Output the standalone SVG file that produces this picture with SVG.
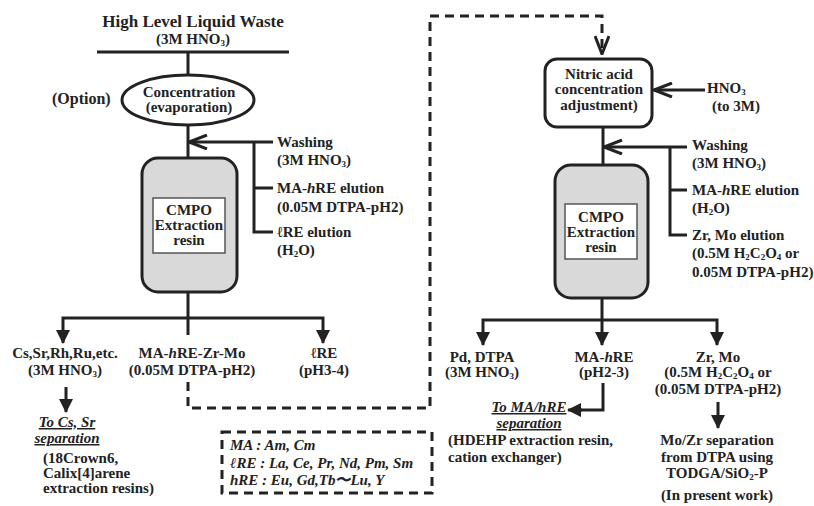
<svg xmlns="http://www.w3.org/2000/svg" width="814" height="506" viewBox="0 0 814 506">
<style>
text{font-family:"Liberation Serif","Times New Roman",serif;font-weight:bold;font-size:15px;fill:#222}
.t{font-size:17px}
.c{text-anchor:middle}
.i{font-style:italic}
.u{text-decoration:underline}
.s{font-size:9px}
.ln{fill:none;stroke:#222;stroke-width:3}
.dash{fill:none;stroke:#222;stroke-width:3;stroke-dasharray:9 6}
.col{fill:#d9d9d9;stroke:#222;stroke-width:3}
.inner{fill:#fff;stroke:#555;stroke-width:1.5}
.box{fill:#fff;stroke:#222;stroke-width:3}
</style>
<defs>
<marker id="chev" viewBox="0 0 20 16" refX="19" refY="8" markerWidth="20" markerHeight="16" markerUnits="userSpaceOnUse" orient="auto">
<path d="M1 1 L19 8 L1 15" fill="none" stroke="#222" stroke-width="3"/>
</marker>
<marker id="tri" viewBox="0 0 14 14" refX="13" refY="7" markerWidth="14" markerHeight="14" markerUnits="userSpaceOnUse" orient="auto">
<path d="M0 0 L14 7 L0 14 Z" fill="#222"/>
</marker>
</defs>

<g id="feed">
<text class="t c" x="193" y="27">High Level Liquid Waste</text>
<text class="c" x="193" y="44">(3M HNO<tspan class="s" dy="2">3</tspan><tspan dy="-2">)</tspan></text>
<line class="ln" x1="97" y1="52" x2="289" y2="52"/>
</g>

<g id="concentration">
<ellipse class="box" cx="188" cy="100" rx="66" ry="25"/>
<text class="c" x="189" y="97">Concentration</text>
<text class="c" x="189" y="112">(evaporation)</text>
<text x="52" y="104" style="font-size:16px">(Option)</text>
</g>

<g id="left-eluents">
<text x="277" y="147">Washing</text>
<text x="277" y="165">(3M HNO<tspan class="s" dy="2">3</tspan><tspan dy="-2">)</tspan></text>
<text x="277" y="193">MA-<tspan class="i">h</tspan>RE elution</text>
<text x="277" y="212">(0.05M DTPA-pH2)</text>
<text x="277" y="237">ℓRE elution</text>
<text x="277" y="255">(H<tspan class="s" dy="2">2</tspan><tspan dy="-2">O)</tspan></text>
</g>

<g id="left-column">
<rect class="col" x="142" y="158" width="95" height="134" rx="16"/>
<rect class="inner" x="153" y="198" width="72" height="55"/>
<text class="c" x="189" y="215">CMPO</text>
<text class="c" x="189" y="230">Extraction</text>
<text class="c" x="189" y="245">resin</text>
</g>

<g id="left-products">
<text class="c" x="65" y="358">Cs,Sr,Rh,Ru,etc.</text>
<text class="c" x="65" y="375">(3M HNO<tspan class="s" dy="2">3</tspan><tspan dy="-2">)</tspan></text>
<text class="c" x="192" y="358">MA-<tspan class="i">h</tspan>RE-Zr-Mo</text>
<text class="c" x="192" y="375">(0.05M DTPA-pH2)</text>
<text class="c" x="324" y="358">ℓRE</text>
<text class="c" x="324" y="375">(pH3-4)</text>
</g>

<g id="cs-sr">
<text class="c i u" x="67" y="427">To Cs, Sr</text>
<text class="c i u" x="67" y="443">separation</text>
<text x="43" y="463">(18Crown6,</text>
<text x="43" y="478">Calix[4]arene</text>
<text x="43" y="493">extraction resins)</text>
</g>

<g id="legend">
<rect class="dash" x="222" y="432" width="210" height="61"/>
<text class="i" x="230" y="450">MA :  Am, Cm</text>
<text class="i" x="230" y="468">ℓRE : La, Ce, Pr, Nd, Pm, Sm</text>
<text class="i" x="230" y="485">hRE :  Eu, Gd,Tb〜Lu, Y</text>
</g>

<g id="nitric">
<rect class="box" x="545" y="59" width="107" height="68" rx="12"/>
<text class="c" x="599" y="79">Nitric acid</text>
<text class="c" x="599" y="94">concentration</text>
<text class="c" x="599" y="110">adjustment)</text>
<text x="707" y="93">HNO<tspan class="s" dy="2">3</tspan></text>
<text x="712" y="111">(to 3M)</text>
</g>

<g id="right-eluents">
<text x="692" y="150">Washing</text>
<text x="692" y="168">(3M HNO<tspan class="s" dy="2">3</tspan><tspan dy="-2">)</tspan></text>
<text x="692" y="195">MA-<tspan class="i">h</tspan>RE elution</text>
<text x="692" y="213">(H<tspan class="s" dy="2">2</tspan><tspan dy="-2">O)</tspan></text>
<text x="692" y="240">Zr, Mo elution</text>
<text x="692" y="258">(0.5M H<tspan class="s" dy="2">2</tspan><tspan dy="-2">C</tspan><tspan class="s" dy="2">2</tspan><tspan dy="-2">O</tspan><tspan class="s" dy="2">4</tspan><tspan dy="-2"> or</tspan></text>
<text x="692" y="277">0.05M DTPA-pH2)</text>
</g>

<g id="right-column">
<rect class="col" x="555" y="165" width="93" height="133" rx="16"/>
<rect class="inner" x="565" y="204" width="72" height="55"/>
<text class="c" x="601" y="222">CMPO</text>
<text class="c" x="601" y="237">Extraction</text>
<text class="c" x="601" y="252">resin</text>
</g>

<g id="right-products">
<text class="c" x="482" y="362">Pd, DTPA</text>
<text class="c" x="482" y="377">(3M HNO<tspan class="s" dy="2">3</tspan><tspan dy="-2">)</tspan></text>
<text class="c" x="604" y="362">MA-<tspan class="i">h</tspan>RE</text>
<text class="c" x="604" y="377">(pH2-3)</text>
<text class="c" x="718" y="362">Zr, Mo</text>
<text class="c" x="718" y="377">(0.5M H<tspan class="s" dy="2">2</tspan><tspan dy="-2">C</tspan><tspan class="s" dy="2">2</tspan><tspan dy="-2">O</tspan><tspan class="s" dy="2">4</tspan><tspan dy="-2"> or</tspan></text>
<text class="c" x="718" y="394">(0.05M DTPA-pH2)</text>
</g>

<g id="ma-hre">
<text class="c i u" x="529" y="412">To MA/hRE</text>
<text class="c i u" x="529" y="428">separation</text>
<text x="448" y="445">(HDEHP extraction resin,</text>
<text x="448" y="462">cation exchanger)</text>
</g>

<g id="mo-zr">
<text class="c" x="717" y="445">Mo/Zr separation</text>
<text class="c" x="717" y="462">from DTPA using</text>
<text class="c" x="717" y="478">TODGA/SiO<tspan class="s" dy="2">2</tspan><tspan dy="-2">-P</tspan></text>
<text class="c" x="717" y="500">(In present work)</text>
</g>

<g id="connectors">
<line class="ln" x1="188" y1="52" x2="188" y2="75"/>
<line class="ln" x1="188" y1="125" x2="188" y2="158"/>
<line class="ln" x1="273" y1="142" x2="189" y2="142" marker-end="url(#chev)"/>
<path class="ln" d="M254 142 V232 H273 M254 188 H273"/>
<line class="ln" x1="188" y1="292" x2="188" y2="335"/>
<path class="ln" d="M63 331 V318 H323 V331"/>
<line class="ln" x1="63" y1="330" x2="63" y2="343" marker-end="url(#tri)"/>
<line class="ln" x1="323" y1="330" x2="323" y2="343" marker-end="url(#tri)"/>
<line class="ln" x1="66" y1="387" x2="66" y2="412" marker-end="url(#tri)"/>
<path class="dash" d="M188 382 V408 H430 V16 H602 V54" marker-end="url(#chev)"/>
<line class="ln" x1="705" y1="90" x2="654" y2="90" marker-end="url(#chev)"/>
<line class="ln" x1="603" y1="127" x2="603" y2="165"/>
<line class="ln" x1="687" y1="147" x2="604" y2="147" marker-end="url(#chev)"/>
<path class="ln" d="M670 147 V235 H687 M670 190 H687"/>
<line class="ln" x1="602" y1="298" x2="602" y2="345" marker-end="url(#tri)"/>
<path class="ln" d="M483 333 V320 H717 V333"/>
<line class="ln" x1="483" y1="332" x2="483" y2="345" marker-end="url(#tri)"/>
<line class="ln" x1="717" y1="332" x2="717" y2="345" marker-end="url(#tri)"/>
<path class="ln" d="M603 383 V410 H580"/>
<line class="ln" x1="582" y1="410" x2="568" y2="410" marker-end="url(#tri)"/>
<line class="ln" x1="718" y1="402" x2="718" y2="428" marker-end="url(#tri)"/>
</g>
</svg>
